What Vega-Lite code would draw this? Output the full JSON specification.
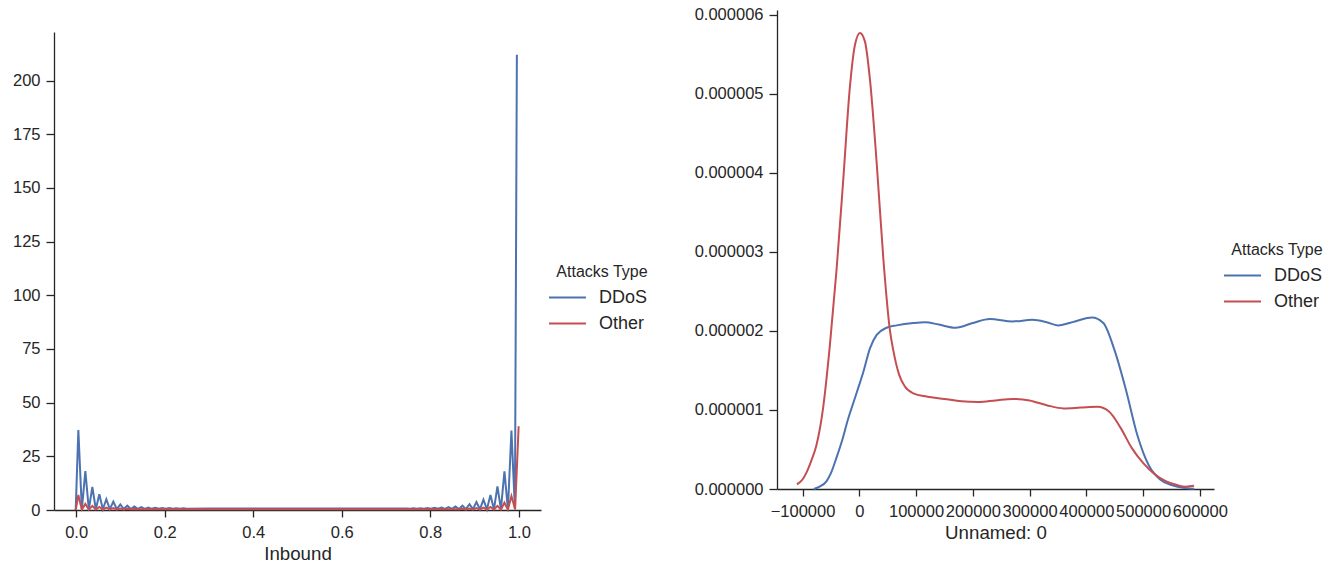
{
  "$schema": "https://vega.github.io/schema/vega-lite/v6.json",
  "background": "white",
  "padding": {"left": 12, "top": 6, "right": 5, "bottom": 0},
  "spacing": 46,
  "config": {
    "font": "Liberation Sans",
    "view": {"stroke": null},
    "axis": {
      "grid": false,
      "domainColor": "#262626",
      "domainWidth": 1.3,
      "tickColor": "#262626",
      "tickWidth": 1.3,
      "labelColor": "#262626",
      "labelFontSize": 16.5,
      "labelOverlap": false,
      "labelFlush": false,
      "titleColor": "#262626",
      "titleFontSize": 18.7,
      "titleFontWeight": "normal"
    },
    "axisX": {"tickSize": 7, "labelPadding": 7, "titlePadding": 4},
    "axisY": {"tickSize": 8, "labelPadding": 6},
    "legend": {
      "orient": "none",
      "padding": 0,
      "symbolType": "M-2,0L2,0",
      "symbolSize": 342,
      "symbolStrokeWidth": 2.2,
      "labelOffset": 21,
      "rowPadding": 6,
      "titlePadding": 7,
      "titleAnchor": "middle",
      "titleFontSize": 16,
      "titleFontWeight": "normal",
      "titleColor": "#262626",
      "labelFontSize": 18,
      "labelColor": "#262626"
    }
  },
  "resolve": {"legend": {"color": "independent"}},
  "hconcat": [
    {
      "width": 487,
      "height": 500,
      "data": {
        "values": [
          {"Inbound": -0.001, "density": 0.0, "Attacks Type": "DDoS"},
          {"Inbound": 0.005, "density": 37.2, "Attacks Type": "DDoS"},
          {"Inbound": 0.0129, "density": 0.3, "Attacks Type": "DDoS"},
          {"Inbound": 0.0208, "density": 18.1, "Attacks Type": "DDoS"},
          {"Inbound": 0.0287, "density": 0.3, "Attacks Type": "DDoS"},
          {"Inbound": 0.0366, "density": 10.7, "Attacks Type": "DDoS"},
          {"Inbound": 0.0445, "density": 0.35, "Attacks Type": "DDoS"},
          {"Inbound": 0.0524, "density": 7.3, "Attacks Type": "DDoS"},
          {"Inbound": 0.0603, "density": 0.35, "Attacks Type": "DDoS"},
          {"Inbound": 0.0682, "density": 5.0, "Attacks Type": "DDoS"},
          {"Inbound": 0.0761, "density": 0.4, "Attacks Type": "DDoS"},
          {"Inbound": 0.084, "density": 3.9, "Attacks Type": "DDoS"},
          {"Inbound": 0.0919, "density": 0.4, "Attacks Type": "DDoS"},
          {"Inbound": 0.0998, "density": 2.6, "Attacks Type": "DDoS"},
          {"Inbound": 0.1077, "density": 0.45, "Attacks Type": "DDoS"},
          {"Inbound": 0.1156, "density": 2.0, "Attacks Type": "DDoS"},
          {"Inbound": 0.1235, "density": 0.45, "Attacks Type": "DDoS"},
          {"Inbound": 0.1314, "density": 1.6, "Attacks Type": "DDoS"},
          {"Inbound": 0.1393, "density": 0.5, "Attacks Type": "DDoS"},
          {"Inbound": 0.1472, "density": 1.3, "Attacks Type": "DDoS"},
          {"Inbound": 0.1551, "density": 0.5, "Attacks Type": "DDoS"},
          {"Inbound": 0.163, "density": 1.15, "Attacks Type": "DDoS"},
          {"Inbound": 0.1709, "density": 0.55, "Attacks Type": "DDoS"},
          {"Inbound": 0.1788, "density": 1.05, "Attacks Type": "DDoS"},
          {"Inbound": 0.1867, "density": 0.55, "Attacks Type": "DDoS"},
          {"Inbound": 0.1946, "density": 0.95, "Attacks Type": "DDoS"},
          {"Inbound": 0.2025, "density": 0.6, "Attacks Type": "DDoS"},
          {"Inbound": 0.2104, "density": 0.9, "Attacks Type": "DDoS"},
          {"Inbound": 0.2183, "density": 0.6, "Attacks Type": "DDoS"},
          {"Inbound": 0.2262, "density": 0.85, "Attacks Type": "DDoS"},
          {"Inbound": 0.2341, "density": 0.62, "Attacks Type": "DDoS"},
          {"Inbound": 0.242, "density": 0.8, "Attacks Type": "DDoS"},
          {"Inbound": 0.2499, "density": 0.64, "Attacks Type": "DDoS"},
          {"Inbound": 0.3, "density": 0.68, "Attacks Type": "DDoS"},
          {"Inbound": 0.4, "density": 0.66, "Attacks Type": "DDoS"},
          {"Inbound": 0.5, "density": 0.65, "Attacks Type": "DDoS"},
          {"Inbound": 0.6, "density": 0.66, "Attacks Type": "DDoS"},
          {"Inbound": 0.7, "density": 0.68, "Attacks Type": "DDoS"},
          {"Inbound": 0.7383, "density": 0.66, "Attacks Type": "DDoS"},
          {"Inbound": 0.7462, "density": 0.75, "Attacks Type": "DDoS"},
          {"Inbound": 0.7541, "density": 0.64, "Attacks Type": "DDoS"},
          {"Inbound": 0.762, "density": 0.8, "Attacks Type": "DDoS"},
          {"Inbound": 0.7699, "density": 0.62, "Attacks Type": "DDoS"},
          {"Inbound": 0.7778, "density": 0.85, "Attacks Type": "DDoS"},
          {"Inbound": 0.7857, "density": 0.6, "Attacks Type": "DDoS"},
          {"Inbound": 0.7936, "density": 0.9, "Attacks Type": "DDoS"},
          {"Inbound": 0.8015, "density": 0.58, "Attacks Type": "DDoS"},
          {"Inbound": 0.8094, "density": 1.0, "Attacks Type": "DDoS"},
          {"Inbound": 0.8173, "density": 0.55, "Attacks Type": "DDoS"},
          {"Inbound": 0.8252, "density": 1.1, "Attacks Type": "DDoS"},
          {"Inbound": 0.8331, "density": 0.52, "Attacks Type": "DDoS"},
          {"Inbound": 0.841, "density": 1.3, "Attacks Type": "DDoS"},
          {"Inbound": 0.8489, "density": 0.5, "Attacks Type": "DDoS"},
          {"Inbound": 0.8568, "density": 1.6, "Attacks Type": "DDoS"},
          {"Inbound": 0.8647, "density": 0.45, "Attacks Type": "DDoS"},
          {"Inbound": 0.8726, "density": 2.0, "Attacks Type": "DDoS"},
          {"Inbound": 0.8805, "density": 0.42, "Attacks Type": "DDoS"},
          {"Inbound": 0.8884, "density": 2.7, "Attacks Type": "DDoS"},
          {"Inbound": 0.8963, "density": 0.4, "Attacks Type": "DDoS"},
          {"Inbound": 0.9042, "density": 3.7, "Attacks Type": "DDoS"},
          {"Inbound": 0.9121, "density": 0.38, "Attacks Type": "DDoS"},
          {"Inbound": 0.92, "density": 4.8, "Attacks Type": "DDoS"},
          {"Inbound": 0.9279, "density": 0.35, "Attacks Type": "DDoS"},
          {"Inbound": 0.9358, "density": 7.0, "Attacks Type": "DDoS"},
          {"Inbound": 0.9437, "density": 0.33, "Attacks Type": "DDoS"},
          {"Inbound": 0.9516, "density": 11.0, "Attacks Type": "DDoS"},
          {"Inbound": 0.9595, "density": 0.3, "Attacks Type": "DDoS"},
          {"Inbound": 0.9674, "density": 18.0, "Attacks Type": "DDoS"},
          {"Inbound": 0.9753, "density": 0.3, "Attacks Type": "DDoS"},
          {"Inbound": 0.9832, "density": 37.0, "Attacks Type": "DDoS"},
          {"Inbound": 0.9911, "density": 0.4, "Attacks Type": "DDoS"},
          {"Inbound": 0.9955, "density": 212.0, "Attacks Type": "DDoS"},

          {"Inbound": -0.001, "density": 0.0, "Attacks Type": "Other"},
          {"Inbound": 0.005, "density": 7.0, "Attacks Type": "Other"},
          {"Inbound": 0.0129, "density": 0.2, "Attacks Type": "Other"},
          {"Inbound": 0.0208, "density": 2.8, "Attacks Type": "Other"},
          {"Inbound": 0.0287, "density": 0.2, "Attacks Type": "Other"},
          {"Inbound": 0.0366, "density": 1.9, "Attacks Type": "Other"},
          {"Inbound": 0.0445, "density": 0.22, "Attacks Type": "Other"},
          {"Inbound": 0.0524, "density": 1.4, "Attacks Type": "Other"},
          {"Inbound": 0.0603, "density": 0.25, "Attacks Type": "Other"},
          {"Inbound": 0.0682, "density": 1.1, "Attacks Type": "Other"},
          {"Inbound": 0.0761, "density": 0.25, "Attacks Type": "Other"},
          {"Inbound": 0.084, "density": 0.9, "Attacks Type": "Other"},
          {"Inbound": 0.0919, "density": 0.28, "Attacks Type": "Other"},
          {"Inbound": 0.0998, "density": 0.7, "Attacks Type": "Other"},
          {"Inbound": 0.1077, "density": 0.3, "Attacks Type": "Other"},
          {"Inbound": 0.1156, "density": 0.6, "Attacks Type": "Other"},
          {"Inbound": 0.1235, "density": 0.32, "Attacks Type": "Other"},
          {"Inbound": 0.1314, "density": 0.5, "Attacks Type": "Other"},
          {"Inbound": 0.15, "density": 0.35, "Attacks Type": "Other"},
          {"Inbound": 0.3, "density": 0.36, "Attacks Type": "Other"},
          {"Inbound": 0.5, "density": 0.35, "Attacks Type": "Other"},
          {"Inbound": 0.7, "density": 0.36, "Attacks Type": "Other"},
          {"Inbound": 0.85, "density": 0.36, "Attacks Type": "Other"},
          {"Inbound": 0.8647, "density": 0.33, "Attacks Type": "Other"},
          {"Inbound": 0.8726, "density": 0.6, "Attacks Type": "Other"},
          {"Inbound": 0.8805, "density": 0.3, "Attacks Type": "Other"},
          {"Inbound": 0.8884, "density": 0.7, "Attacks Type": "Other"},
          {"Inbound": 0.8963, "density": 0.28, "Attacks Type": "Other"},
          {"Inbound": 0.9042, "density": 0.9, "Attacks Type": "Other"},
          {"Inbound": 0.9121, "density": 0.26, "Attacks Type": "Other"},
          {"Inbound": 0.92, "density": 1.1, "Attacks Type": "Other"},
          {"Inbound": 0.9279, "density": 0.25, "Attacks Type": "Other"},
          {"Inbound": 0.9358, "density": 1.4, "Attacks Type": "Other"},
          {"Inbound": 0.9437, "density": 0.22, "Attacks Type": "Other"},
          {"Inbound": 0.9516, "density": 1.9, "Attacks Type": "Other"},
          {"Inbound": 0.9595, "density": 0.2, "Attacks Type": "Other"},
          {"Inbound": 0.9674, "density": 3.4, "Attacks Type": "Other"},
          {"Inbound": 0.9753, "density": 0.2, "Attacks Type": "Other"},
          {"Inbound": 0.9832, "density": 6.5, "Attacks Type": "Other"},
          {"Inbound": 0.9915, "density": 0.3, "Attacks Type": "Other"},
          {"Inbound": 0.9995, "density": 39.0, "Attacks Type": "Other"}
        ]
      },
      "mark": {"type": "line", "strokeWidth": 2, "interpolate": "linear"},
      "encoding": {
        "x": {
          "field": "Inbound",
          "type": "quantitative",
          "scale": {"domain": [-0.05, 1.05], "nice": false, "zero": false},
          "axis": {"values": [0, 0.2, 0.4, 0.6, 0.8, 1.0], "format": ".1f", "title": "Inbound"}
        },
        "y": {
          "field": "density",
          "type": "quantitative",
          "scale": {"domain": [0, 222.6], "range": [500, 22], "nice": false},
          "axis": {"values": [0, 25, 50, 75, 100, 125, 150, 175, 200], "title": null}
        },
        "color": {
          "field": "Attacks Type",
          "type": "nominal",
          "scale": {"domain": ["DDoS", "Other"], "range": ["#4C72B0", "#C44E52"]},
          "legend": {"title": "Attacks Type", "legendX": 502, "legendY": 254}
        }
      }
    },
    {
      "width": 437,
      "height": 479,
      "data": {
        "values": [
          {"index": -80000, "density": 0.0, "Attacks Type": "DDoS"},
          {"index": -70000, "density": 0.03e-6, "Attacks Type": "DDoS"},
          {"index": -57600, "density": 0.1e-6, "Attacks Type": "DDoS"},
          {"index": -50000, "density": 0.2e-6, "Attacks Type": "DDoS"},
          {"index": -40000, "density": 0.4e-6, "Attacks Type": "DDoS"},
          {"index": -30000, "density": 0.62e-6, "Attacks Type": "DDoS"},
          {"index": -20000, "density": 0.88e-6, "Attacks Type": "DDoS"},
          {"index": -10000, "density": 1.1e-6, "Attacks Type": "DDoS"},
          {"index": 0, "density": 1.32e-6, "Attacks Type": "DDoS"},
          {"index": 7100, "density": 1.48e-6, "Attacks Type": "DDoS"},
          {"index": 18800, "density": 1.78e-6, "Attacks Type": "DDoS"},
          {"index": 30600, "density": 1.95e-6, "Attacks Type": "DDoS"},
          {"index": 48200, "density": 2.04e-6, "Attacks Type": "DDoS"},
          {"index": 65900, "density": 2.07e-6, "Attacks Type": "DDoS"},
          {"index": 95300, "density": 2.1e-6, "Attacks Type": "DDoS"},
          {"index": 115900, "density": 2.11e-6, "Attacks Type": "DDoS"},
          {"index": 140000, "density": 2.08e-6, "Attacks Type": "DDoS"},
          {"index": 170000, "density": 2.04e-6, "Attacks Type": "DDoS"},
          {"index": 200000, "density": 2.1e-6, "Attacks Type": "DDoS"},
          {"index": 230000, "density": 2.15e-6, "Attacks Type": "DDoS"},
          {"index": 270000, "density": 2.12e-6, "Attacks Type": "DDoS"},
          {"index": 305000, "density": 2.14e-6, "Attacks Type": "DDoS"},
          {"index": 330000, "density": 2.11e-6, "Attacks Type": "DDoS"},
          {"index": 350000, "density": 2.07e-6, "Attacks Type": "DDoS"},
          {"index": 380000, "density": 2.12e-6, "Attacks Type": "DDoS"},
          {"index": 410000, "density": 2.17e-6, "Attacks Type": "DDoS"},
          {"index": 430000, "density": 2.1e-6, "Attacks Type": "DDoS"},
          {"index": 450000, "density": 1.75e-6, "Attacks Type": "DDoS"},
          {"index": 470000, "density": 1.25e-6, "Attacks Type": "DDoS"},
          {"index": 490000, "density": 0.68e-6, "Attacks Type": "DDoS"},
          {"index": 510000, "density": 0.3e-6, "Attacks Type": "DDoS"},
          {"index": 530000, "density": 0.12e-6, "Attacks Type": "DDoS"},
          {"index": 550000, "density": 0.05e-6, "Attacks Type": "DDoS"},
          {"index": 570000, "density": 0.015e-6, "Attacks Type": "DDoS"},
          {"index": 590000, "density": 0.004e-6, "Attacks Type": "DDoS"},

          {"index": -110000, "density": 0.06e-6, "Attacks Type": "Other"},
          {"index": -100000, "density": 0.12e-6, "Attacks Type": "Other"},
          {"index": -92900, "density": 0.21e-6, "Attacks Type": "Other"},
          {"index": -85000, "density": 0.35e-6, "Attacks Type": "Other"},
          {"index": -75300, "density": 0.56e-6, "Attacks Type": "Other"},
          {"index": -63500, "density": 1.04e-6, "Attacks Type": "Other"},
          {"index": -51800, "density": 1.82e-6, "Attacks Type": "Other"},
          {"index": -40000, "density": 2.78e-6, "Attacks Type": "Other"},
          {"index": -28200, "density": 3.92e-6, "Attacks Type": "Other"},
          {"index": -16500, "density": 5.09e-6, "Attacks Type": "Other"},
          {"index": -7600, "density": 5.62e-6, "Attacks Type": "Other"},
          {"index": 1200, "density": 5.77e-6, "Attacks Type": "Other"},
          {"index": 10000, "density": 5.66e-6, "Attacks Type": "Other"},
          {"index": 18800, "density": 5.18e-6, "Attacks Type": "Other"},
          {"index": 30600, "density": 4.13e-6, "Attacks Type": "Other"},
          {"index": 42400, "density": 2.91e-6, "Attacks Type": "Other"},
          {"index": 54100, "density": 2.0e-6, "Attacks Type": "Other"},
          {"index": 60000, "density": 1.75e-6, "Attacks Type": "Other"},
          {"index": 70000, "density": 1.45e-6, "Attacks Type": "Other"},
          {"index": 80000, "density": 1.3e-6, "Attacks Type": "Other"},
          {"index": 95300, "density": 1.21e-6, "Attacks Type": "Other"},
          {"index": 118800, "density": 1.17e-6, "Attacks Type": "Other"},
          {"index": 150000, "density": 1.14e-6, "Attacks Type": "Other"},
          {"index": 180000, "density": 1.11e-6, "Attacks Type": "Other"},
          {"index": 210000, "density": 1.1e-6, "Attacks Type": "Other"},
          {"index": 240000, "density": 1.12e-6, "Attacks Type": "Other"},
          {"index": 270000, "density": 1.14e-6, "Attacks Type": "Other"},
          {"index": 300000, "density": 1.12e-6, "Attacks Type": "Other"},
          {"index": 330000, "density": 1.06e-6, "Attacks Type": "Other"},
          {"index": 360000, "density": 1.02e-6, "Attacks Type": "Other"},
          {"index": 390000, "density": 1.03e-6, "Attacks Type": "Other"},
          {"index": 420000, "density": 1.04e-6, "Attacks Type": "Other"},
          {"index": 440000, "density": 0.98e-6, "Attacks Type": "Other"},
          {"index": 460000, "density": 0.78e-6, "Attacks Type": "Other"},
          {"index": 480000, "density": 0.52e-6, "Attacks Type": "Other"},
          {"index": 500000, "density": 0.33e-6, "Attacks Type": "Other"},
          {"index": 520000, "density": 0.19e-6, "Attacks Type": "Other"},
          {"index": 540000, "density": 0.1e-6, "Attacks Type": "Other"},
          {"index": 560000, "density": 0.05e-6, "Attacks Type": "Other"},
          {"index": 575000, "density": 0.03e-6, "Attacks Type": "Other"},
          {"index": 590000, "density": 0.04e-6, "Attacks Type": "Other"}
        ]
      },
      "mark": {"type": "line", "strokeWidth": 2, "interpolate": "monotone"},
      "encoding": {
        "x": {
          "field": "index",
          "type": "quantitative",
          "scale": {"domain": [-145000, 625000], "nice": false, "zero": false},
          "axis": {"values": [-100000, 0, 100000, 200000, 300000, 400000, 500000, 600000], "format": "d", "title": "Unnamed: 0"}
        },
        "y": {
          "field": "density",
          "type": "quantitative",
          "scale": {"domain": [0, 6.06e-6], "nice": false},
          "axis": {"values": [0, 1e-6, 2e-6, 3e-6, 4e-6, 5e-6, 6e-6], "format": ".6f", "title": null}
        },
        "color": {
          "field": "Attacks Type",
          "type": "nominal",
          "scale": {"domain": ["DDoS", "Other"], "range": ["#4C72B0", "#C44E52"]},
          "legend": {"title": "Attacks Type", "legendX": 454, "legendY": 232}
        }
      }
    }
  ]
}
